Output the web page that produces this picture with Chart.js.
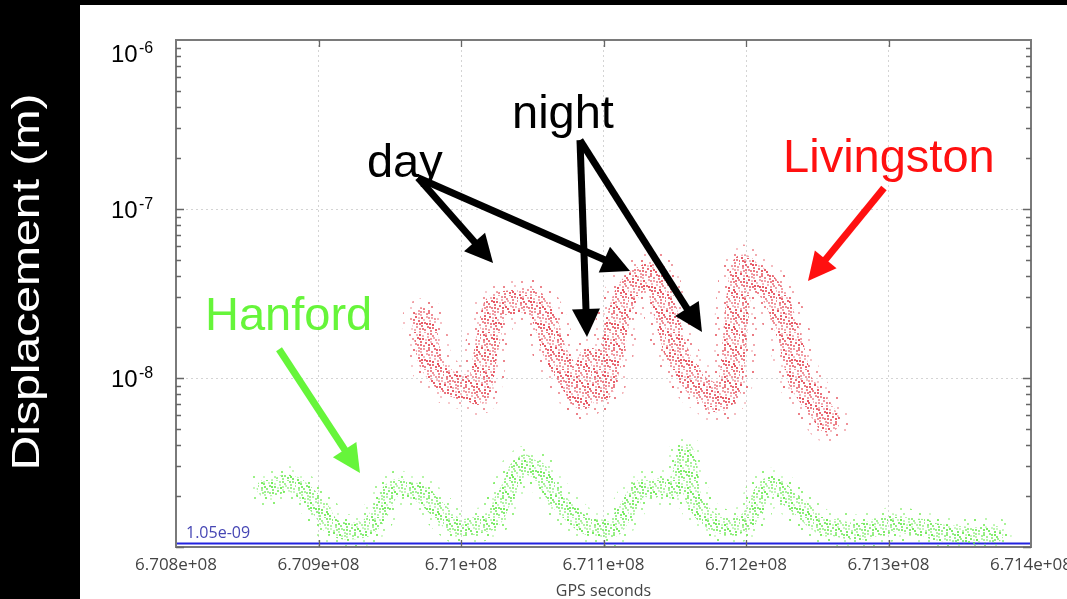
<!DOCTYPE html>
<html lang="en">
<head>
<meta charset="UTF-8">
<title>Displacement – Livingston / Hanford</title>
<script src="https://cdn.jsdelivr.net/npm/chart.js@4"></script>
<style>
  body { margin: 0; background: #fff; overflow: hidden; }
  canvas { display: block; }
</style>
</head>
<body>
<canvas id="c" width="1067" height="599"></canvas>
<script>
// x axis range (GPS seconds)
const xMin = 670800000;
const xMax = 671400000;
const xStep = 100000;

// y axis decades (m)
const yDecades = [1e-9, 1e-8, 1e-7, 1e-6];
const yLabelled = [1e-8, 1e-7, 1e-6];

// reference level line
const refLevel = 1.05e-9;
const refLabel = "1.05e-09";

// Livingston band
const livingstonGps = [670974000, 670978200, 670985300, 670992300, 670999300, 671006300, 671011900, 671016800, 671020400, 671023900,
  671030900, 671037900, 671044900, 671051900, 671058900, 671066000, 671073000, 671080000, 671085600, 671090500,
  671097500, 671104600, 671110200, 671115100, 671122100, 671129100, 671136100, 671141800, 671146700, 671152300,
  671159300, 671166300, 671173300, 671178900, 671183900, 671188800, 671193700, 671197900, 671202800, 671209800,
  671216800, 671222500, 671227400, 671232300, 671237900, 671243500, 671248400, 671254000, 671257500];
const livingstonDisp = [2.2e-8, 1.28e-8, 1.04e-8, 9.3e-9, 8.9e-9, 8.9e-9, 8.2e-9, 1.33e-8, 1.92e-8, 2.63e-8,
  2.78e-8, 2.82e-8, 2.9e-8, 2.78e-8, 2.2e-8, 1.41e-8, 1.11e-8, 8.9e-9, 7.7e-9, 1.28e-8,
  8.5e-9, 1.28e-8, 2.2e-8, 3.0e-8, 3.65e-8, 3.96e-8, 4.18e-8, 2.78e-8, 1.92e-8, 1.33e-8,
  1.07e-8, 8.9e-9, 8.2e-9, 7.4e-9, 7.7e-9, 8.9e-9, 2.43e-8, 4.54e-8, 4.18e-8, 3.8e-8,
  3.32e-8, 2.78e-8, 2.11e-8, 1.52e-8, 9.7e-9, 8.2e-9, 7.1e-9, 6.2e-9, 5.6e-9];

// Hanford band
const hanfordGps = [670862500, 670869500, 670876500, 670883500, 670890500, 670897500, 670903200, 670908100, 670915100, 670922100,
  670929100, 670934700, 670939600, 670944600, 670950200, 670955800, 670962800, 670969800, 670976800, 670983900,
  670990900, 670997900, 671004900, 671011900, 671018900, 671023900, 671029500, 671034400, 671039300, 671041400,
  671044900, 671048400, 671054000, 671058900, 671064600, 671069500, 671076500, 671083500, 671090500, 671097500,
  671103200, 671108100, 671113000, 671118600, 671124200, 671129100, 671134000, 671138200, 671143200, 671148100,
  671153700, 671157900, 671162100, 671167700, 671174700, 671181800, 671188800, 671195800, 671201400, 671206300,
  671211200, 671216800, 671222500, 671227400, 671234400, 671241400, 671248400, 671255400, 671262500, 671269500,
  671276500, 671283500, 671290500, 671297500, 671304600, 671311600, 671318600, 671325600, 671332600, 671339600,
  671346700, 671353700, 671360700, 671367700, 671374700];
const hanfordDisp = [2.23e-9, 2.26e-9, 2.39e-9, 2.33e-9, 2.09e-9, 1.82e-9, 1.59e-9, 1.35e-9, 1.26e-9, 1.24e-9,
  1.26e-9, 1.31e-9, 1.45e-9, 1.70e-9, 2.12e-9, 2.26e-9, 2.17e-9, 2.12e-9, 1.90e-9, 1.66e-9,
  1.45e-9, 1.31e-9, 1.31e-9, 1.35e-9, 1.39e-9, 1.51e-9, 1.90e-9, 2.26e-9, 2.86e-9, 2.97e-9,
  3.14e-9, 2.97e-9, 2.86e-9, 2.49e-9, 2.09e-9, 1.82e-9, 1.59e-9, 1.41e-9, 1.31e-9, 1.30e-9,
  1.26e-9, 1.31e-9, 1.51e-9, 1.77e-9, 2.17e-9, 2.26e-9, 2.17e-9, 2.26e-9, 2.26e-9, 2.17e-9,
  2.60e-9, 3.60e-9, 2.09e-9, 1.66e-9, 1.45e-9, 1.35e-9, 1.31e-9, 1.35e-9, 1.45e-9, 1.66e-9,
  2.09e-9, 2.33e-9, 2.26e-9, 2.03e-9, 1.82e-9, 1.61e-9, 1.41e-9, 1.31e-9, 1.30e-9, 1.26e-9,
  1.24e-9, 1.24e-9, 1.30e-9, 1.33e-9, 1.39e-9, 1.35e-9, 1.31e-9, 1.30e-9, 1.23e-9, 1.21e-9,
  1.19e-9, 1.18e-9, 1.16e-9, 1.18e-9, 1.19e-9];

// annotations, in data coordinates [gps, displacement]
const notes = [
  { text: "day", at: [670934000, 1.55e-7], color: "#000" },
  { text: "night", at: [671035800, 3.0e-7], color: "#000" },
  { text: "Livingston", at: [671226000, 1.66e-7], color: "#ff1010" },
  { text: "Hanford", at: [670820350, 1.92e-8], color: "#66f53a" },
];
const arrows = [
  { from: [670969800, 1.53e-7], to: [671022500, 4.79e-8], color: "#000" },
  { from: [670969800, 1.53e-7], to: [671118600, 4.30e-8], color: "#000" },
  { from: [671083500, 2.56e-7], to: [671088400, 1.75e-8], color: "#000" },
  { from: [671083500, 2.56e-7], to: [671169100, 1.87e-8], color: "#000" },
  { from: [671296800, 1.33e-7], to: [671243500, 3.75e-8], color: "#ff1010" },
  { from: [670872300, 1.48e-8], to: [670929100, 2.74e-9], color: "#66f53a" },
];

const canvas = document.getElementById("c");
const ctx = canvas.getContext("2d");

// speckled texture so the thick strokes look like a cloud of dots
function speckle(rgb, count, size) {
  const c = document.createElement("canvas");
  c.width = c.height = size;
  const g = c.getContext("2d");
  for (let i = 0; i < count; i++) {
    const px = ((0.31 + i * 0.7548776662) % 1) * size;
    const py = ((0.47 + i * 0.5698402910) % 1) * size;
    const a = 0.3 + 0.55 * ((i * 0.618034) % 1);
    g.fillStyle = "rgba(" + rgb + "," + a.toFixed(2) + ")";
    g.fillRect(Math.floor(px), Math.floor(py), 2, 2);
  }
  return ctx.createPattern(c, "repeat");
}

const toPts = (xs, ys) => xs.map((x, i) => ({ x: x, y: ys[i] }));
const lPts = toPts(livingstonGps, livingstonDisp);
const hPts = toPts(hanfordGps, hanfordDisp);

function band(data, pattern, width) {
  return {
    data: data, borderColor: pattern, borderWidth: width, pointRadius: 0,
    tension: 0.3, borderCapStyle: "round", borderJoinStyle: "round", fill: false,
  };
}

function drawArrow(c, x1, y1, x2, y2, color, w, head) {
  const ang = Math.atan2(y2 - y1, x2 - x1);
  const cs = Math.cos(ang), sn = Math.sin(ang);
  const bx = x2 - head * cs, by = y2 - head * sn;
  const hw = head * 0.5;
  c.strokeStyle = color; c.fillStyle = color;
  c.lineWidth = w; c.lineCap = "butt";
  c.beginPath(); c.moveTo(x1, y1); c.lineTo(bx + 2 * cs, by + 2 * sn); c.stroke();
  c.beginPath();
  c.moveTo(x2, y2);
  c.lineTo(bx + hw * sn, by - hw * cs);
  c.lineTo(bx - hw * sn, by + hw * cs);
  c.closePath(); c.fill();
}

const decor = {
  id: "decor",
  beforeDraw(chart) {
    const c = chart.ctx;
    c.save();
    c.fillStyle = "#fff"; c.fillRect(0, 0, chart.width, chart.height);
    c.fillStyle = "#000";
    c.fillRect(0, 0, 80, chart.height);
    c.fillRect(0, 0, chart.width, 5);
    // y axis title in the black strip
    const t = "Displacement (m)";
    c.translate(39, 282); c.rotate(-Math.PI / 2);
    c.font = '38px "Liberation Sans", Arial, sans-serif';
    const w = c.measureText(t).width;
    c.scale(377 / w, 1);
    c.fillStyle = "#fff"; c.textAlign = "center"; c.textBaseline = "alphabetic";
    c.fillText(t, 0, 0);
    c.restore();
  },
  afterDatasetsDraw(chart) {
    const c = chart.ctx;
    const { left, right, top, bottom } = chart.chartArea;
    const xs = chart.scales.x, ys = chart.scales.y;
    c.save();
    // frame
    c.strokeStyle = "#7a7a7a"; c.lineWidth = 2;
    c.strokeRect(left, top, right - left, bottom - top);
    // inward ticks
    c.lineWidth = 1.3; c.strokeStyle = "#666";
    c.beginPath();
    for (let v = xMin + xStep; v < xMax; v += xStep) {
      const px = Math.round(xs.getPixelForValue(v)) + 0.5;
      c.moveTo(px, bottom); c.lineTo(px, bottom - 7);
      c.moveTo(px, top); c.lineTo(px, top + 7);
    }
    for (let d = 0; d < yDecades.length - 1; d++) {
      for (let k = 1; k <= 9; k++) {
        const py = Math.round(ys.getPixelForValue(yDecades[d] * k)) + 0.5;
        const len = k === 1 ? 8 : 5;
        c.moveTo(left, py); c.lineTo(left + len, py);
        c.moveTo(right, py); c.lineTo(right - len, py);
      }
    }
    c.stroke();
    // y tick labels 10^n
    c.fillStyle = "#000"; c.textAlign = "left"; c.textBaseline = "alphabetic";
    yLabelled.forEach(v => {
      const cy = Math.max(ys.getPixelForValue(v), top + 13);
      c.font = '24px "Liberation Sans", Arial, sans-serif';
      c.fillText("10", 111, cy + 8.5);
      c.font = '16px "Liberation Sans", Arial, sans-serif';
      c.fillText(String(Math.round(Math.log10(v))), 139, cy - 0.5);
    });
    // reference level label
    c.fillStyle = "#4646b4";
    c.font = '16px "Open Sans", sans-serif';
    c.fillText(refLabel, left + 10, ys.getPixelForValue(refLevel) - 5);
    // arrows
    arrows.forEach(a => {
      drawArrow(c, xs.getPixelForValue(a.from[0]), ys.getPixelForValue(a.from[1]),
        xs.getPixelForValue(a.to[0]), ys.getPixelForValue(a.to[1]), a.color, 7, 28);
    });
    // labels
    c.font = '47px "Liberation Sans", Arial, sans-serif';
    notes.forEach(n => {
      c.fillStyle = n.color;
      c.fillText(n.text, xs.getPixelForValue(n.at[0]), ys.getPixelForValue(n.at[1]));
    });
    c.restore();
  },
};

new Chart(ctx, {
  type: "line",
  data: {
    datasets: [
      band(hPts, speckle("110,235,80", 22, 37), 34),
      band(hPts, speckle("95,230,70", 120, 37), 17),
      band(lPts, speckle("230,90,100", 22, 37), 44),
      band(lPts, speckle("225,50,65", 120, 37), 24),
      {
        data: [{ x: xMin, y: refLevel }, { x: xMax, y: refLevel }],
        borderColor: "#2323e0", borderWidth: 2, pointRadius: 0, fill: false,
      },
    ],
  },
  options: {
    responsive: false,
    devicePixelRatio: 1,
    animation: false,
    layout: { padding: { left: 0, top: 40, right: 36, bottom: 0 } },
    plugins: { legend: { display: false }, tooltip: { enabled: false } },
    scales: {
      x: {
        type: "linear", min: xMin, max: xMax,
        afterFit: (s) => { s.height = 52; s.paddingLeft = 0; s.paddingRight = 0; },
        ticks: {
          stepSize: xStep, autoSkip: false, maxRotation: 0, padding: 8,
          color: "#444", font: { family: "Open Sans", size: 17 },
          callback: (v) => Number(v).toExponential().replace(/e\+(\d)$/, "e+0$1"),
        },
        grid: { color: "#d4d4d4", lineWidth: 1, drawTicks: false },
        border: { display: false, dash: [2, 3] },
        title: {
          display: true, text: "GPS seconds", color: "#444",
          font: { family: "Open Sans", size: 16 }, padding: { top: 0, bottom: -2 },
        },
      },
      y: {
        type: "logarithmic", min: 1e-9, max: 1e-6,
        afterFit: (s) => { s.width = 176; },
        afterBuildTicks: (s) => { s.ticks = yDecades.map(v => ({ value: v })); },
        ticks: { display: false },
        grid: { color: "#d4d4d4", lineWidth: 1, drawTicks: false },
        border: { display: false, dash: [2, 3] },
      },
    },
  },
  plugins: [decor],
});
</script>
</body>
</html>
